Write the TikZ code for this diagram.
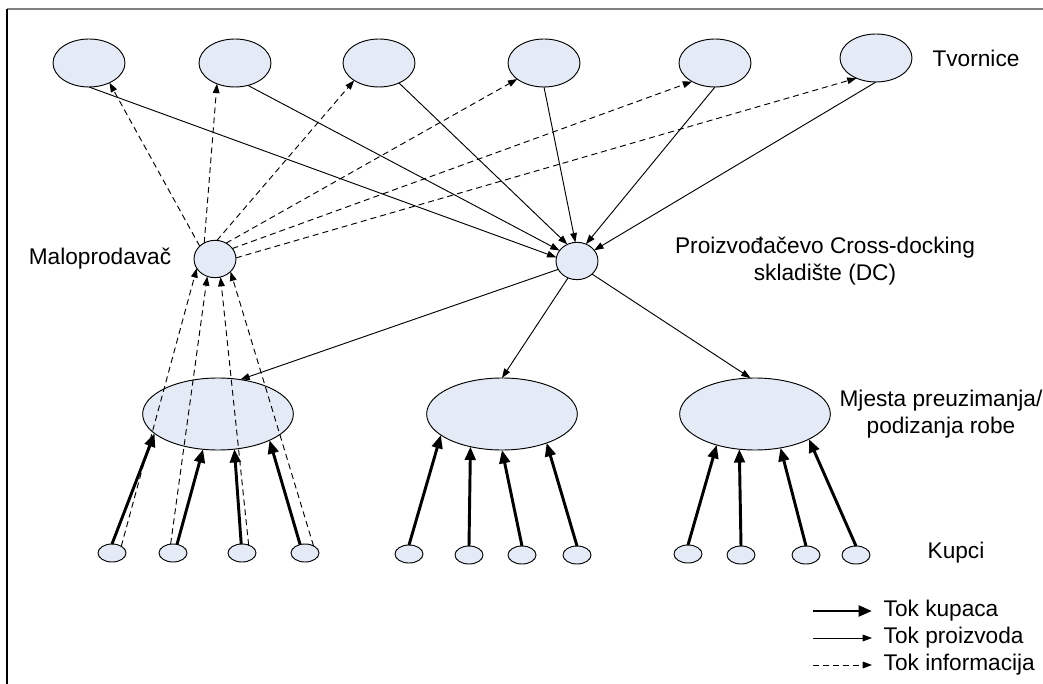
\documentclass[tikz,border=0pt]{standalone}
\usepackage{fontspec}
\setmainfont{Liberation Sans}
\usepackage{tkz-graph}
\usetikzlibrary{arrows.meta,shapes.geometric}

\definecolor{vertexfill}{HTML}{E4EBF6}
\tikzset{
	kupac/.style={line width=2.2pt, -{Triangle[length=10pt,width=8pt]}},
	proizvod/.style={line width=0.7pt, -{Triangle[length=7pt,width=5pt]}},
	informacija/.style={line width=0.7pt, dash pattern=on 4.5pt off 3pt, -{Triangle[length=7pt,width=5pt]}},
	tekst/.style={font=\fontsize{17}{20}\selectfont, align=center}
}

\begin{document}
\begin{tikzpicture}[x=0.75pt, y=-0.75pt,
	VertexStyle/.style={draw, ellipse, fill=vertexfill, inner sep=0pt, line width=0.7pt},
	EdgeStyle/.style={draw=black}]
	\useasboundingbox (0,0) rectangle (1043,684);
	\draw[gray, line width=1.5pt] (7,9) -- (1043,9);
	\draw[line width=0.8pt] (7,9) -- (7,684);
	\SetVertexNoLabel
	% tvornice
	\begin{scope}[VertexStyle/.append style = {minimum width=54pt, minimum height=36pt}]
		\Vertex[x=89 ,y=63]{F1}
		\Vertex[x=235,y=63]{F2}
		\Vertex[x=379,y=63]{F3}
		\Vertex[x=544,y=63]{F4}
		\Vertex[x=715,y=63]{F5}
		\Vertex[x=876,y=58]{F6}
	\end{scope}
	\begin{scope}[VertexStyle/.append style = {minimum width=31.5pt, minimum height=28pt}]
		\Vertex[x=215,y=259]{M}
		\Vertex[x=577,y=261]{DC}
	\end{scope}
	% mjesta preuzimanja
	\begin{scope}[VertexStyle/.append style = {minimum width=113pt, minimum height=54pt}]
		\Vertex[x=218,y=414]{P1}
		\Vertex[x=502,y=414]{P2}
		\Vertex[x=755,y=414]{P3}
	\end{scope}
	% kupci
	\begin{scope}[VertexStyle/.append style = {minimum width=21pt, minimum height=13.5pt}]
		\Vertex[x=112,y=553]{K11}
		\Vertex[x=173,y=553]{K12}
		\Vertex[x=242,y=553]{K13}
		\Vertex[x=305,y=553]{K14}
		\Vertex[x=409,y=554]{K21}
		\Vertex[x=469,y=555]{K22}
		\Vertex[x=522,y=555]{K23}
		\Vertex[x=577,y=555]{K24}
		\Vertex[x=688,y=554]{K31}
		\Vertex[x=741,y=555]{K32}
		\Vertex[x=806,y=555]{K33}
		\Vertex[x=856,y=555]{K34}
	\end{scope}
	\node[tekst] (tvornice) at (976,58) {Tvornice};
	\node[tekst] (malo) at (100,259) {Maloprodavač};
	\node[tekst] (skladiste) at (825,261) {Proizvođačevo Cross-docking\\skladište (DC)};
	\node[tekst] (mjesta) at (941,414) {Mjesta preuzimanja/\\podizanja robe};
	\node[tekst] (kupci) at (956,553) {Kupci};
	% tok proizvoda
	\Edge[style={proizvod}](F1.270)(DC.170)
	\Edge[style={proizvod}](F2.300)(DC.149)
	\Edge[style={proizvod}](F3.315)(DC.120)
	\Edge[style={proizvod}](F4.270)(DC.95)
	\Edge[style={proizvod}](F5.270)(DC.62)
	\Edge[style={proizvod}](F6.270)(DC.32)
	\Edge[style={proizvod}](DC.204)(P1.57)
	\Edge[style={proizvod}](DC.242)(P2.90)
	\Edge[style={proizvod}](DC.319)(P3.97)
	% tok informacija
	\Edge[style={informacija}](M.140)(F1.316)
	\Edge[style={informacija}](M.124)(F2.229)
	\Edge[style={informacija}](M.84)(F3.215)
	\Edge[style={informacija}](M.55)(F4.211)
	\Edge[style={informacija}](M.31)(F5.219)
	\Edge[style={informacija}](M.3)(F6.226)
	\Edge[style={informacija}](K11.36)(M.207)
	\Edge[style={informacija}](K12.105)(M.246)
	\Edge[style={informacija}](K13.50)(M.287)
	\Edge[style={informacija}](K14.40)(M.321)
	% tok kupaca
	\Edge[style={kupac}](K11.90)(P1.197)
	\Edge[style={kupac}](K12.65)(P1.247)
	\Edge[style={kupac}](K13.95)(P1.295)
	\Edge[style={kupac}](K14.120)(P1.333)
	\Edge[style={kupac}](K21.90)(P2.199)
	\Edge[style={kupac}](K22.90)(P2.226)
	\Edge[style={kupac}](K23.90)(P2.270)
	\Edge[style={kupac}](K24.90)(P2.327)
	\Edge[style={kupac}](K31.90)(P3.219)
	\Edge[style={kupac}](K32.90)(P3.246)
	\Edge[style={kupac}](K33.90)(P3.307)
	\Edge[style={kupac}](K34.90)(P3.335)
	% legenda
	\coordinate (l1a) at (813,611); \coordinate (l1b) at (872,611);
	\coordinate (l2a) at (813,638); \coordinate (l2b) at (872,638);
	\coordinate (l3a) at (813,665); \coordinate (l3b) at (872,665);
	\Edge[style={kupac}](l1a)(l1b)
	\Edge[style={proizvod}](l2a)(l2b)
	\Edge[style={informacija}](l3a)(l3b)
	\node[tekst, anchor=west] (lt1) at (879,611) {Tok kupaca};
	\node[tekst, anchor=west] (lt2) at (879,638) {Tok proizvoda};
	\node[tekst, anchor=west] (lt3) at (879,665) {Tok informacija};
\end{tikzpicture}
\end{document}
